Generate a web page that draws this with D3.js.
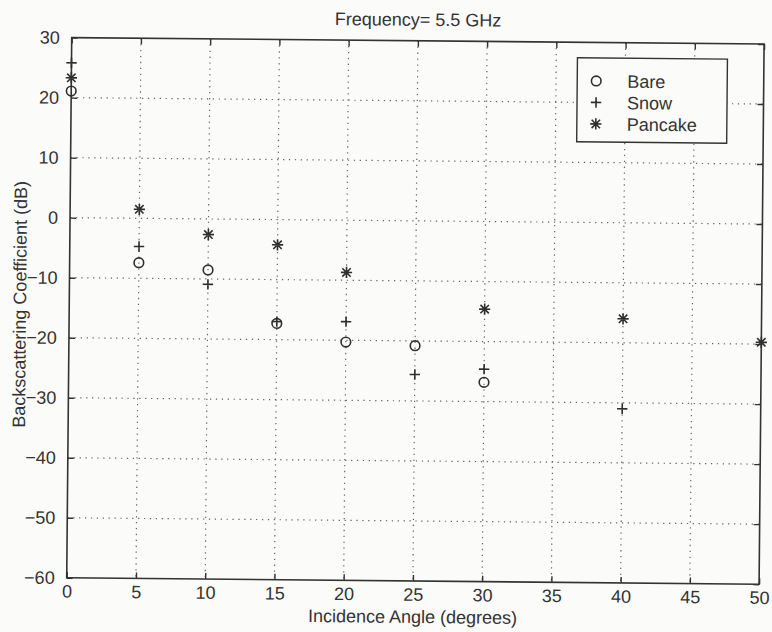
<!DOCTYPE html>
<html>
<head>
<meta charset="utf-8">
<script src="https://cdn.jsdelivr.net/npm/d3@7/dist/d3.min.js"></script>
<style>
  html, body { margin: 0; padding: 0; background: #fbfbf9; }
  svg { display: block; }
  text { font-family: "Liberation Sans", Arial, Helvetica, sans-serif; fill: #333; }
</style>
</head>
<body>
<script>
// Incidence angles (degrees) and backscattering coefficients (dB) per surface type
const bareAngles    = [0, 5, 10, 15, 20, 25, 30];
const bareValues    = [21.1, -7.4, -8.5, -17.3, -20.3, -20.8, -26.8];
const snowAngles    = [0, 5, 10, 15, 20, 25, 30, 40];
const snowValues    = [25.8, -4.7, -10.9, -17.0, -16.9, -25.6, -24.6, -31.0];
const pancakeAngles = [0, 5, 10, 15, 20, 30, 40, 50];
const pancakeValues = [23.3, 1.5, -2.6, -4.2, -8.7, -14.6, -16.0, -19.7];

const xTicks = [0, 5, 10, 15, 20, 25, 30, 35, 40, 45, 50];
const yTicks = [30, 20, 10, 0, -10, -20, -30, -40, -50, -60];
const seriesNames = ["Bare", "Snow", "Pancake"];
const titleText = "Frequency= 5.5 GHz";
const xLabel = "Incidence Angle (degrees)";
const yLabel = "Backscattering Coefficient (dB)";

const W = 772, H = 632;
const m = { left: 69.2, right: 772 - 761.6, top: 40.8, bottom: 632 - 581 };
const iw = W - m.left - m.right, ih = H - m.top - m.bottom;
const ink = "#333";

const svg = d3.select("body").append("svg").attr("width", W).attr("height", H);
svg.append("rect").attr("width", W).attr("height", H).attr("fill", "#fbfbf9");

// whole figure sits slightly skewed on the page
const fig = svg.append("g")
  .attr("transform", `rotate(0.53, ${m.left + iw / 2}, ${m.top + ih / 2})`);
const g = fig.append("g").attr("transform", `translate(${m.left},${m.top})`);

const x = d3.scaleLinear().domain([0, 50]).range([0, iw]);
const y = d3.scaleLinear().domain([-60, 30]).range([ih, 0]);

// dotted grid
g.append("g").selectAll("line").data(xTicks.slice(1, -1)).join("line")
  .attr("x1", d => x(d)).attr("x2", d => x(d)).attr("y1", 0).attr("y2", ih)
  .attr("stroke", "#666").attr("stroke-width", 1.2).attr("stroke-dasharray", "1.3,4.6");
g.append("g").selectAll("line").data(yTicks.slice(1, -1)).join("line")
  .attr("y1", d => y(d)).attr("y2", d => y(d)).attr("x1", 0).attr("x2", iw)
  .attr("stroke", "#666").attr("stroke-width", 1.2).attr("stroke-dasharray", "1.3,4.6");

// axes with inward ticks on all four sides
function styleAxis(sel) {
  sel.select(".domain").remove();
  sel.selectAll(".tick line").attr("stroke", ink).attr("stroke-width", 1.4);
  sel.selectAll(".tick text").style("font-size", "18px").attr("fill", "#333");
}
const ax = g.append("g").attr("transform", `translate(0,${ih})`)
  .call(d3.axisBottom(x).tickValues(xTicks).tickSizeInner(-6).tickSizeOuter(0).tickPadding(8));
styleAxis(ax);
ax.selectAll(".tick text").attr("dy", "0.71em").attr("y", 7);
const axT = g.append("g")
  .call(d3.axisTop(x).tickValues(xTicks).tickSizeInner(-6).tickSizeOuter(0).tickFormat(""));
styleAxis(axT);
const ay = g.append("g")
  .call(d3.axisLeft(y).tickValues(yTicks).tickSizeInner(-6).tickSizeOuter(0).tickPadding(12)
    .tickFormat(d => d < 0 ? "\u2212" + Math.abs(d) : d));
styleAxis(ay);
const ayR = g.append("g").attr("transform", `translate(${iw},0)`)
  .call(d3.axisRight(y).tickValues(yTicks).tickSizeInner(-6).tickSizeOuter(0).tickFormat(""));
styleAxis(ayR);

g.append("rect").attr("width", iw).attr("height", ih)
  .attr("fill", "none").attr("stroke", ink).attr("stroke-width", 1.6);

// marker shapes
function drawMarker(sel, kind) {
  if (kind === "circle") {
    sel.append("circle").attr("r", 4.8).attr("fill", "none");
  } else if (kind === "plus") {
    const s = 5.2;
    sel.append("path").attr("d", `M${-s},0H${s}M0,${-s}V${s}`);
  } else {
    const s = 5.6, d = s * 0.75;
    sel.append("path").attr("d", `M${-s},0H${s}M0,${-s}V${s}M${-d},${-d}L${d},${d}M${-d},${d}L${d},${-d}`);
  }
  sel.attr("stroke", "#2e2e2e").attr("stroke-width", 1.6).attr("fill", "none");
}

const series = [
  { name: seriesNames[0], kind: "circle", xs: bareAngles, ys: bareValues },
  { name: seriesNames[1], kind: "plus", xs: snowAngles, ys: snowValues },
  { name: seriesNames[2], kind: "star", xs: pancakeAngles, ys: pancakeValues }
];

series.forEach(s => {
  const pts = s.xs.map((a, i) => [a, s.ys[i]]);
  g.append("g").selectAll("g").data(pts).join("g")
    .attr("transform", d => `translate(${x(d[0])},${y(d[1])})`)
    .each(function () { drawMarker(d3.select(this), s.kind); });
});

// legend
const lg = g.append("g").attr("transform", `translate(${iw - 36.5 - 150},${15.5})`);
lg.append("rect").attr("width", 150).attr("height", 84)
  .attr("fill", "#fbfbf9").attr("stroke", ink).attr("stroke-width", 1.4);
series.forEach((s, i) => {
  const row = lg.append("g").attr("transform", `translate(0,${23 + i * 21.5})`);
  drawMarker(row.append("g").attr("transform", "translate(19,0)"), s.kind);
  row.append("text").attr("x", 50).attr("dy", "0.36em").style("font-size", "18px").text(s.name);
});

// titles
g.append("text").attr("x", iw / 2).attr("y", -15).attr("text-anchor", "middle")
  .style("font-size", "18px").text(titleText);
g.append("text").attr("x", iw / 2).attr("y", ih + 42).attr("text-anchor", "middle")
  .style("font-size", "18px").text(xLabel);
g.append("text").attr("transform", `translate(${26 - m.left},${ih / 2 - 3}) rotate(-90)`)
  .attr("text-anchor", "middle").style("font-size", "18px").text(yLabel);
</script>
</body>
</html>
